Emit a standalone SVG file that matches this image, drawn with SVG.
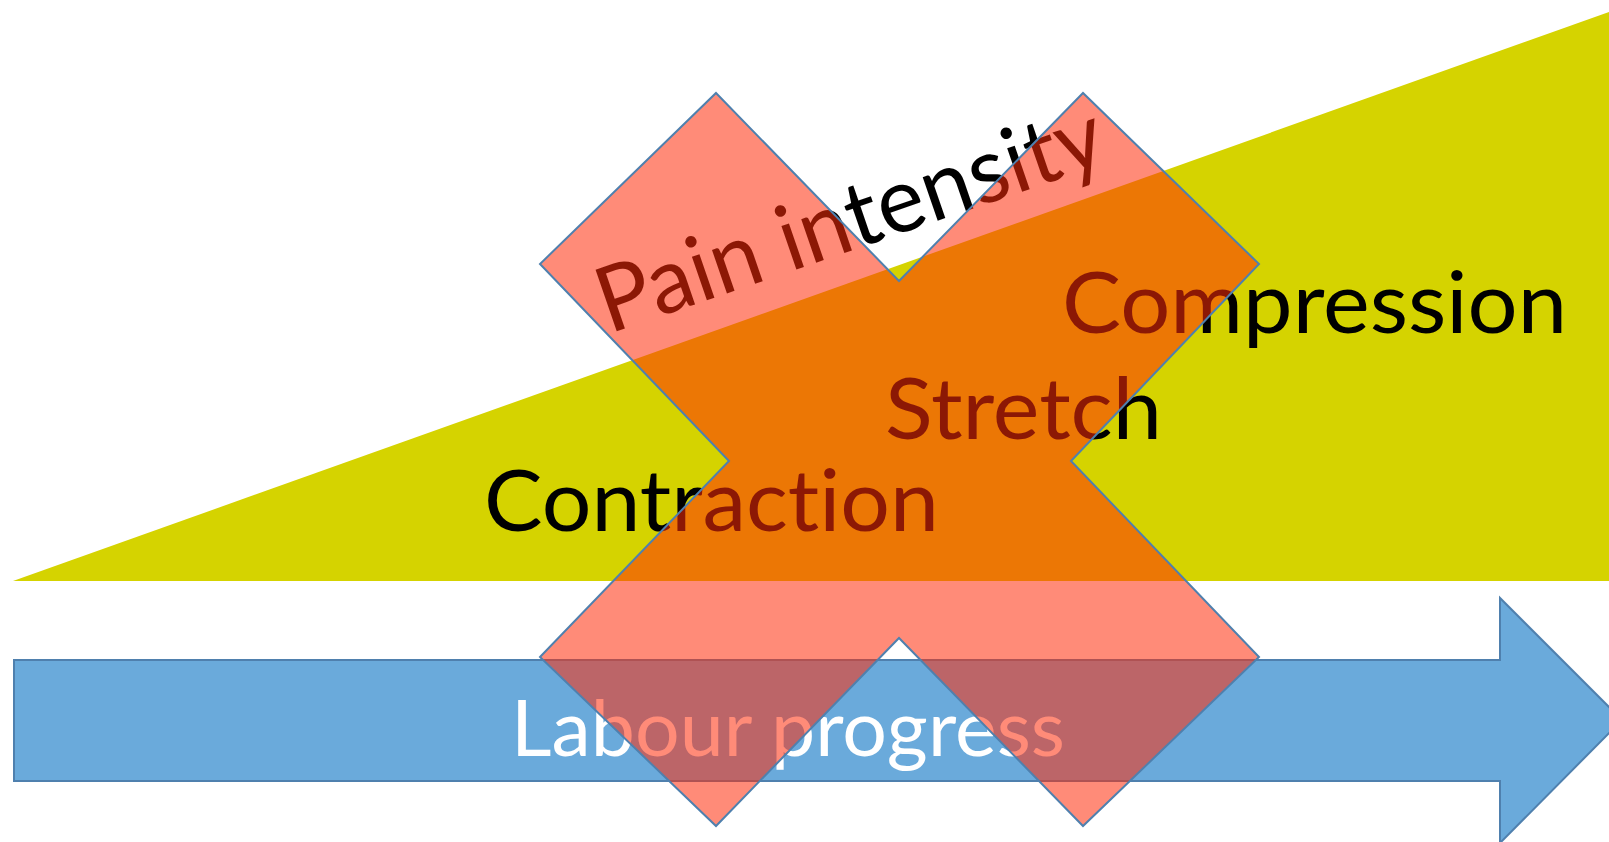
<svg xmlns="http://www.w3.org/2000/svg" width="1609" height="842" viewBox="0 0 1609 842">
<style>
.lbl{font-family:Lato,"Open Sans","Liberation Sans",sans-serif;fill:#000;font-variant-ligatures:none;font-feature-settings:"liga" 0,"clig" 0;}
.white{fill:#fff;}
</style>
<rect x="0" y="0" width="1609" height="842" fill="#fff"/>
<g id="triangle">
<polygon points="13,581 1609,12 1609,581" fill="#D5D300"/>
</g>
<g id="arrow">
<polygon points="14,660 1500,660 1500,598 1622,720 1500,843 1500,781 14,781" fill="#6AAADB" stroke="#4F80AE" stroke-width="2"/>
<text class="lbl white" x="511" y="756" font-size="77" textLength="554" lengthAdjust="spacingAndGlyphs">Labour progress</text>
</g>
<g id="pain">
<text class="lbl" transform="translate(609,334) rotate(-19)" x="0" y="0" font-size="91" textLength="530" lengthAdjust="spacingAndGlyphs">Pain intensity</text>
</g>
<g id="compression"><text class="lbl" x="1062" y="333" font-size="86" textLength="505" lengthAdjust="spacingAndGlyphs">Compression</text></g>
<g id="stretch"><text class="lbl" x="885" y="439" font-size="86" textLength="277" lengthAdjust="spacingAndGlyphs">Stretch</text></g>
<g id="contraction"><text class="lbl" x="484" y="531" font-size="86" textLength="455" lengthAdjust="spacingAndGlyphs">Contraction</text></g>
<g id="cross">
<polygon points="716,93 899,281 1083,93 1259,264 1071,461 1259,657 1083,826 899,638 716,826 540,657 729,461 540,264" fill="#FF2C0A" fill-opacity="0.55" stroke="#4F80AE" stroke-width="2"/>
</g>
</svg>
